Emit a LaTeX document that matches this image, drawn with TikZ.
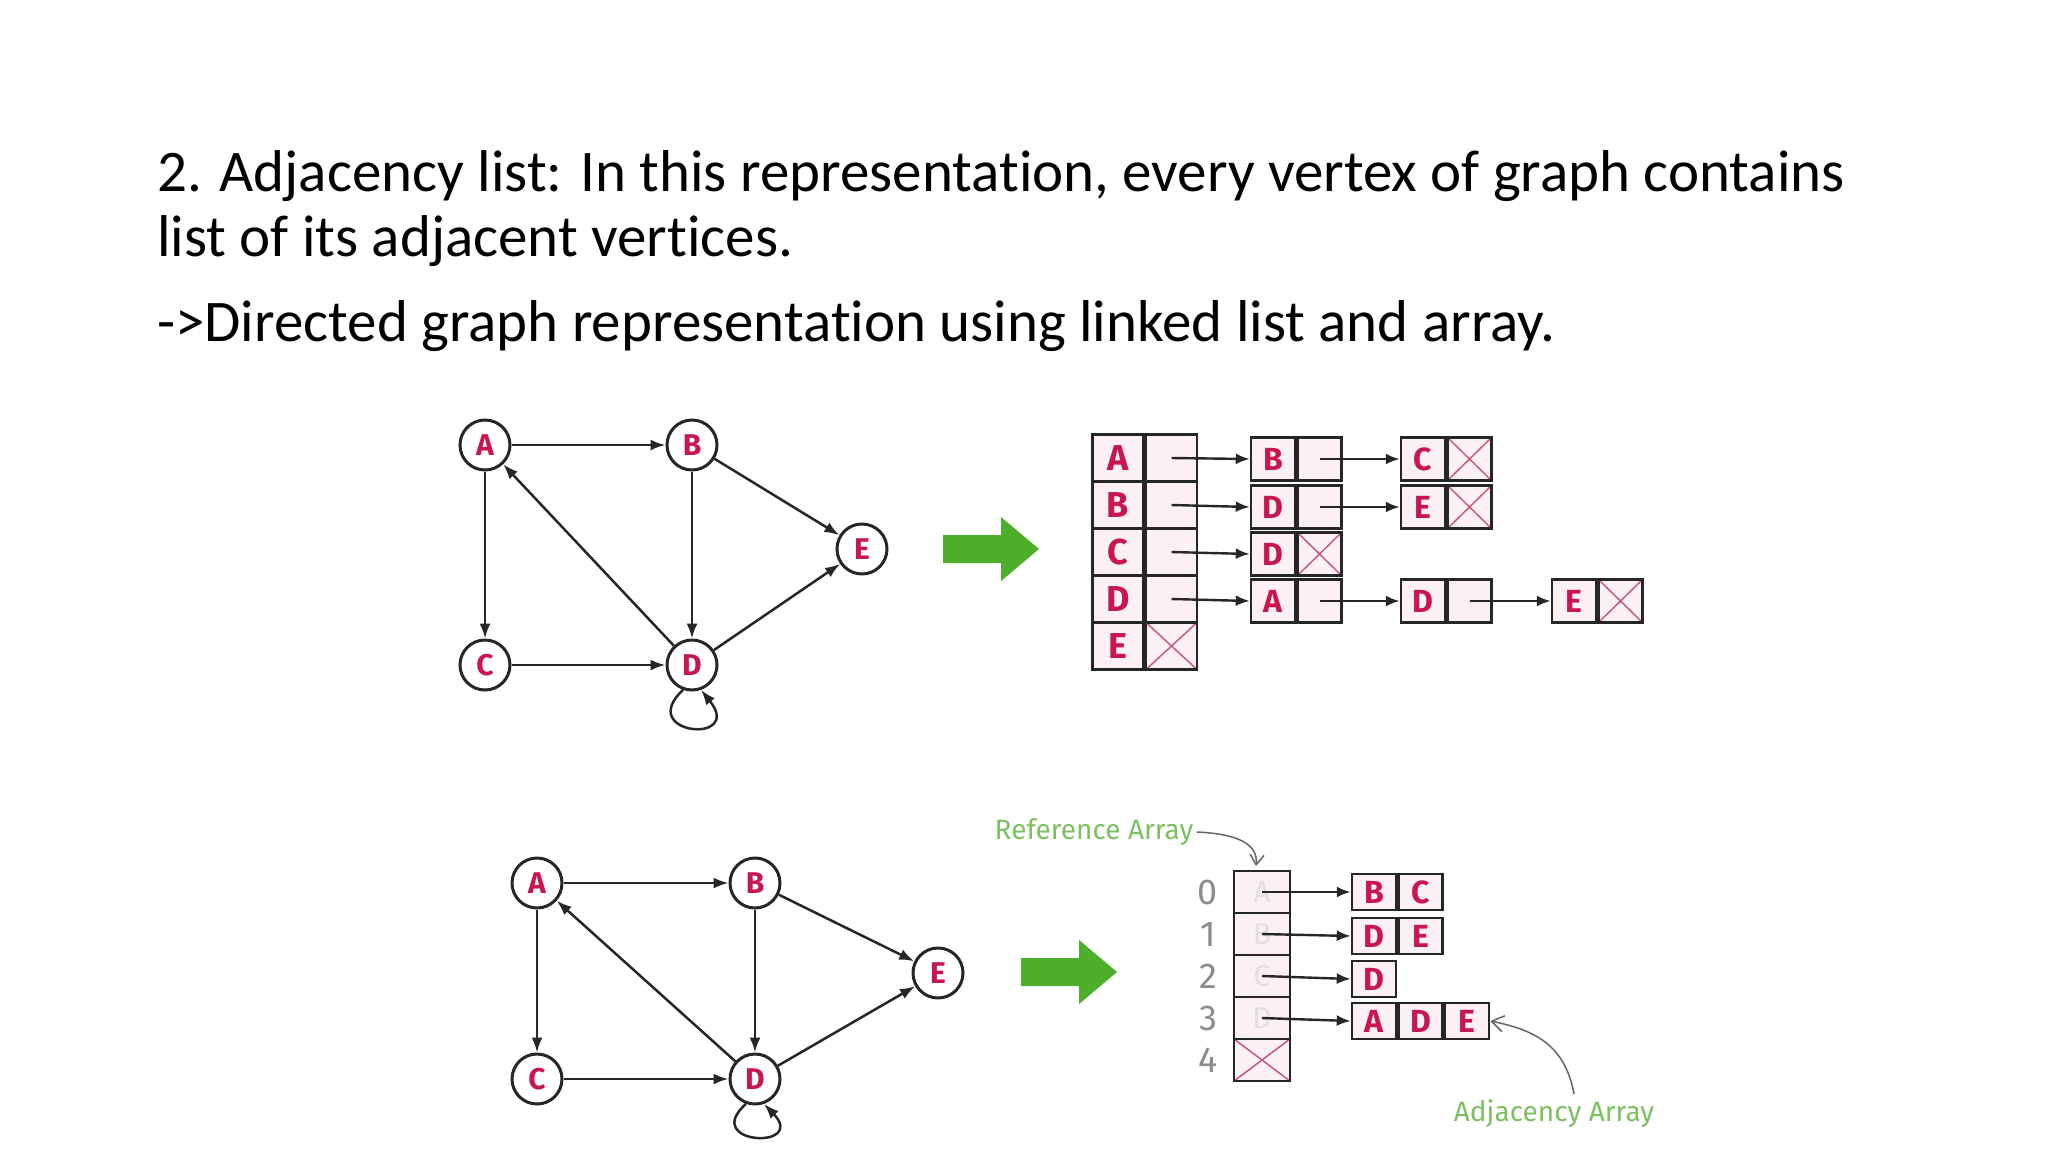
\documentclass[tikz,border=0pt]{standalone}
\usepackage{fontspec}
\setmainfont[RawFeature=-liga]{Carlito}
\newfontfamily\lab{Fira Sans}
\usetikzlibrary{arrows.meta}
\definecolor{crim}{HTML}{C8174F}
\definecolor{cellpink}{HTML}{FBF0F4}
\definecolor{xpink}{HTML}{C85A80}
\definecolor{grn}{HTML}{4DAF2A}
\definecolor{lgrn}{HTML}{7CC060}
\tikzset{
 vtx/.style={circle,draw=black!85,line width=3pt,fill=white,minimum size=50pt,inner sep=0pt,font=\lab\bfseries\fontsize{30}{30}\selectfont,text=crim},
 edg/.style={-{Latex[length=15pt,width=11pt]},line width=2.5pt,black!85},
 cell/.style={draw=black!85,line width=2.5pt,fill=cellpink,minimum width=51pt,minimum height=47pt,inner sep=0pt,font=\lab\bfseries\fontsize{36}{36}\selectfont,text=crim},
 lcell/.style={draw=black!85,line width=2.5pt,fill=cellpink,minimum width=44pt,minimum height=43pt,inner sep=0pt,font=\lab\bfseries\fontsize{32}{32}\selectfont,text=crim},
 acell/.style={draw=black!85,line width=2.5pt,fill=cellpink,minimum width=44pt,minimum height=36pt,inner sep=0pt,font=\lab\bfseries\fontsize{32}{32}\selectfont,text=crim},
 xcell/.style={path picture={\draw[xpink,line width=1.5pt] (path picture bounding box.south west)--(path picture bounding box.north east) (path picture bounding box.north west)--(path picture bounding box.south east);}},
 ptr/.style={-{Latex[length=14pt,width=11pt]},line width=2.4pt,black!85},
 txt/.style={anchor=base west,font=\fontsize{59}{59}\selectfont,inner sep=0pt},
}
\newcommand{\greenarrow}[2]{\fill[grn] (#1-50,#2-14) -- (#1+8,#2-14) -- (#1+8,#2-32) -- (#1+46,#2) -- (#1+8,#2+32) -- (#1+8,#2+14) -- (#1-50,#2+14) -- cycle;}
\begin{document}
\begin{tikzpicture}[x=1pt,y=-1pt]
\useasboundingbox (0,0) rectangle (2048,1152);
\fill[white] (0,0) rectangle (2048,1152);
% text
\node[txt] (t1) at (157,191) {2. Adjacency list: In this representation, every vertex of graph contains};
\node[txt] (t2) at (157,256) {list of its adjacent vertices.};
\node[txt] (t3) at (157,341) {->Directed graph representation using linked list and array.};
% top graph
\node[vtx] (A) at (485,445) {A};
\node[vtx] (B) at (692,445) {B};
\node[vtx] (E) at (862,549) {E};
\node[vtx] (C) at (485,665) {C};
\node[vtx] (D) at (692,665) {D};
\draw[edg] (A)--(B); \draw[edg] (A)--(C); \draw[edg] (B)--(D); \draw[edg] (B)--(E);
\draw[edg] (D)--(A); \draw[edg] (C)--(D); \draw[edg] (D)--(E);
\draw[edg] (D.250) .. controls (635,735) and (745,745) .. (D.290);
\greenarrow{993}{549}
% top list
\foreach \l/\i in {A/0,B/1,C/2,D/3,E/4}{
  \node[cell] (m\l) at (1118,{458+47*\i}) {\l};
  \node[cell,anchor=west] (p\l) at (m\l.east) {};
}
\node[cell,xcell] at (pE) {};
\node[lcell] (nAB) at (1273,459) {B}; \node[lcell,anchor=west] (nABp) at (nAB.east) {};
\node[lcell] (nAC) at (1423,459) {C}; \node[lcell,anchor=west,xcell] (nACp) at (nAC.east) {};
\node[lcell] (nBD) at (1273,507) {D}; \node[lcell,anchor=west] (nBDp) at (nBD.east) {};
\node[lcell] (nBE) at (1423,507) {E}; \node[lcell,anchor=west,xcell] (nBEp) at (nBE.east) {};
\node[lcell] (nCD) at (1273,554) {D}; \node[lcell,anchor=west,xcell] (nCDp) at (nCD.east) {};
\node[lcell] (nDA) at (1273,601) {A}; \node[lcell,anchor=west] (nDAp) at (nDA.east) {};
\node[lcell] (nDD) at (1423,601) {D}; \node[lcell,anchor=west] (nDDp) at (nDD.east) {};
\node[lcell] (nDE) at (1574,601) {E}; \node[lcell,anchor=west,xcell] (nDEp) at (nDE.east) {};
\foreach \s/\t in {pA/nAB,nABp/nAC,pB/nBD,nBDp/nBE,pC/nCD,pD/nDA,nDAp/nDD,nDDp/nDE}{
  \draw[ptr] (\s.center) -- (\t.west);
}
% bottom graph
\node[vtx] (A2) at (537,883) {A};
\node[vtx] (B2) at (755,883) {B};
\node[vtx] (E2) at (938,973) {E};
\node[vtx] (C2) at (537,1079) {C};
\node[vtx] (D2) at (755,1079) {D};
\draw[edg] (A2)--(B2); \draw[edg] (A2)--(C2); \draw[edg] (B2)--(D2); \draw[edg] (B2)--(E2);
\draw[edg] (D2)--(A2); \draw[edg] (C2)--(D2); \draw[edg] (D2)--(E2);
\draw[edg] (D2.250) .. controls (700,1145) and (808,1150) .. (D2.290);
\greenarrow{1071}{972}
% bottom arrays
\foreach \l/\i in {A/0,B/1,C/2,D/3,E/4}{
  \node[cell,minimum width=56pt,minimum height=42pt,text=black!12,font=\lab\fontsize{30}{30}\selectfont] (r\i) at (1262,{892+42*\i}) {\l};
  \node[font=\lab\fontsize{36}{36}\selectfont,text=black!45] (ix\i) at (1208,{892+42*\i}) {\i};
}
\node[cell,minimum width=56pt,minimum height=42pt,xcell] at (r4) {};
\node[acell] (b0a) at (1374,892) {B}; \node[acell,anchor=west] (b0b) at (b0a.east) {C};
\node[acell] (b1a) at (1374,936) {D}; \node[acell,anchor=west] (b1b) at (b1a.east) {E};
\node[acell] (b2a) at (1374,979) {D};
\node[acell] (b3a) at (1374,1021) {A}; \node[acell,anchor=west] (b3b) at (b3a.east) {D}; \node[acell,anchor=west] (b3c) at (b3b.east) {E};
\foreach \i/\t in {0/b0a,1/b1a,2/b2a,3/b3a}{ \draw[ptr] (r\i.center) -- (\t.west); }
\node[font=\lab\fontsize{28}{28}\selectfont,text=lgrn] (ra) at (1094,832) {Reference Array};
\draw[black!60,line width=1.5pt,-{Straight Barb[length=10pt,width=14pt]}] (ra.east) .. controls (1240,834) and (1258,845) .. (1256,866);
\node[font=\lab\fontsize{28}{28}\selectfont,text=lgrn] (aa) at (1554,1114) {Adjacency Array};
\draw[black!60,line width=1.5pt,-{Straight Barb[length=12pt,width=16pt]}] (1574,1094) .. controls (1565,1045) and (1535,1030) .. (b3c.east);
\end{tikzpicture}
\end{document}
